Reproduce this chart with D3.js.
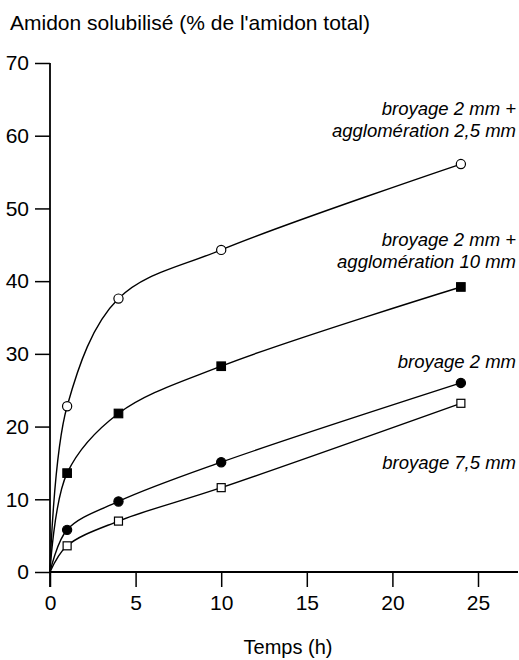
<!DOCTYPE html>
<html>
<head>
<meta charset="utf-8">
<script src="https://cdn.jsdelivr.net/npm/d3@7"></script>
<style>
  body { margin: 0; background: #fff; }
  svg { display: block; }
  text { font-family: "Liberation Sans", Arial, sans-serif; fill: #000; }
</style>
</head>
<body>
<svg id="chart" width="519" height="660"></svg>
<script>
// temps (h) and amidon solubilisé (%) per traitement
const hours = [0, 1, 4, 10, 24];
const agglo25 = [0, 22.8, 37.6, 44.3, 56.1];
const agglo10 = [0, 13.6, 21.8, 28.3, 39.2];
const broyage2 = [0, 5.8, 9.7, 15.1, 26.0];
const broyage75 = [0, 3.6, 7.0, 11.6, 23.2];

const xTicks = [0, 5, 10, 15, 20, 25];
const yTicks = [0, 10, 20, 30, 40, 50, 60, 70];

const yTitle = "Amidon solubilisé (% de l'amidon total)";
const xTitle = 'Temps (h)';

const svg = d3.select('svg#chart');

const x = d3.scaleLinear().domain([0, 25]).range([50, 478]);
const y = d3.scaleLinear().domain([0, 70]).range([572, 63]);

const series = [
    {values: agglo25, marker: 'circle', fill: '#fff'},
    {values: agglo10, marker: 'square', fill: '#000'},
    {values: broyage2, marker: 'circle', fill: '#000'},
    {values: broyage75, marker: 'square', fill: '#fff'}
];

// axes
const gx = svg.append('g')
    .attr('transform', `translate(0,${y(0)})`)
    .call(d3.axisBottom(x).tickValues(xTicks).tickSize(15).tickPadding(8));
gx.select('.domain').remove();
gx.selectAll('line').attr('stroke', '#000').attr('stroke-width', 1.5);
gx.selectAll('text').attr('font-size', 21).attr('font-family', null);

const gy = svg.append('g')
    .attr('transform', `translate(${x(0)},0)`)
    .call(d3.axisLeft(y).tickValues(yTicks).tickSize(15).tickPadding(6));
gy.select('.domain').remove();
gy.selectAll('line').attr('stroke', '#000').attr('stroke-width', 1.5);
gy.selectAll('text').attr('font-size', 21).attr('font-family', null);

svg.append('line')
    .attr('x1', x(0)).attr('x2', 518)
    .attr('y1', y(0)).attr('y2', y(0))
    .attr('stroke', '#000').attr('stroke-width', 1.8);
svg.append('line')
    .attr('x1', x(0)).attr('x2', x(0))
    .attr('y1', y(70)).attr('y2', y(0) + 15)
    .attr('stroke', '#000').attr('stroke-width', 1.8);

// titles
svg.append('text')
    .attr('x', 10).attr('y', 30)
    .attr('font-size', 21)
    .text(yTitle);

svg.append('text')
    .attr('x', 288).attr('y', 654)
    .attr('text-anchor', 'middle')
    .attr('font-size', 20)
    .text(xTitle);

// courbes
const line = d3.line()
    .x((d, i) => x(hours[i]))
    .y(d => y(d))
    .curve(d3.curveCatmullRom.alpha(0.5));

series.forEach(s => {
    svg.append('path')
        .datum(s.values)
        .attr('fill', 'none')
        .attr('stroke', '#000')
        .attr('stroke-width', 1.4)
        .attr('d', line);

    const pts = s.values.slice(1).map((v, i) => ({t: hours[i + 1], v: v}));
    if (s.marker === 'circle') {
        svg.selectAll(null)
            .data(pts)
            .enter().append('circle')
            .attr('cx', d => x(d.t))
            .attr('cy', d => y(d.v))
            .attr('r', 4.6)
            .attr('fill', s.fill)
            .attr('stroke', '#000')
            .attr('stroke-width', 1.2);
    } else {
        const side = s.fill === '#000' ? 8.5 : 8;
        svg.selectAll(null)
            .data(pts)
            .enter().append('rect')
            .attr('x', d => x(d.t) - side / 2)
            .attr('y', d => y(d.v) - side / 2)
            .attr('width', side)
            .attr('height', side)
            .attr('fill', s.fill)
            .attr('stroke', '#000')
            .attr('stroke-width', 1.2);
    }
});

// étiquettes des courbes
const labels = [
    {lines: ['broyage 2 mm +', 'agglomération 2,5 mm'], y: 115},
    {lines: ['broyage 2 mm +', 'agglomération 10 mm'], y: 246},
    {lines: ['broyage 2 mm'], y: 368},
    {lines: ['broyage 7,5 mm'], y: 469}
];

labels.forEach(l => {
    const t = svg.append('text')
        .attr('x', 516).attr('y', l.y)
        .attr('text-anchor', 'end')
        .attr('font-size', 18.5)
        .attr('font-style', 'italic');
    l.lines.forEach((s, i) => {
        t.append('tspan')
            .attr('x', 516)
            .attr('dy', i === 0 ? 0 : 22)
            .text(s);
    });
});
</script>
</body>
</html>
